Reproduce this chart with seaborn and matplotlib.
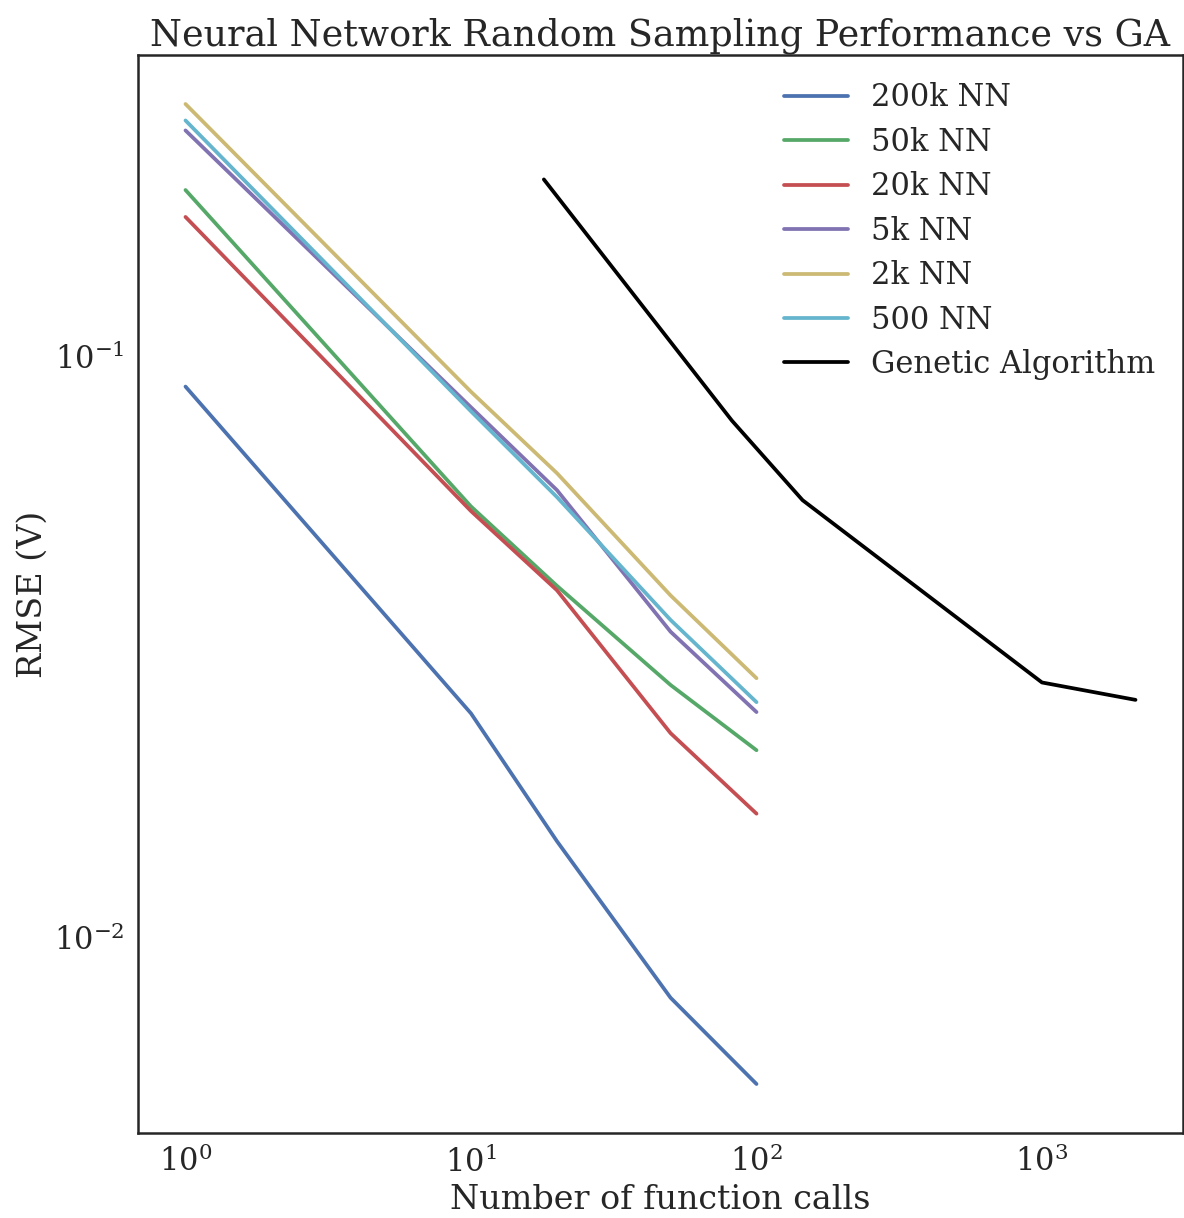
import numpy as np
import pandas as pd
import matplotlib
matplotlib.use("Agg")
import matplotlib.pyplot as plt
import seaborn as sns

# ---- data ----
nn_calls = [1, 10, 20, 50, 100]
rmse_200k = [0.0888, 0.0243, 0.01464, 0.00787, 0.00559]
rmse_50k = [0.1936, 0.0552, 0.0403, 0.0272, 0.0210]
rmse_20k = [0.1740, 0.0542, 0.0396, 0.02247, 0.01633]
rmse_5k = [0.2452, 0.0818, 0.0589, 0.0336, 0.02443]
rmse_2k = [0.2723, 0.0870, 0.0630, 0.0388, 0.02794]
rmse_500 = [0.2551, 0.0805, 0.0573, 0.0352, 0.02541]

ga_calls = [18, 82, 145, 1000, 2126]
rmse_ga = [0.2019, 0.0776, 0.0566, 0.02747, 0.02564]

series_names = ["200k NN", "50k NN", "20k NN", "5k NN", "2k NN", "500 NN", "Genetic Algorithm"]
series_colors = ["#4C72B0", "#55A868", "#C44E52", "#8172B2", "#CCB974", "#64B5CD", "#000000"]

rows = []
for name, vals in zip(series_names[:6], [rmse_200k, rmse_50k, rmse_20k, rmse_5k, rmse_2k, rmse_500]):
    for x, y in zip(nn_calls, vals):
        rows.append({"calls": x, "rmse": y, "series": name})
for x, y in zip(ga_calls, rmse_ga):
    rows.append({"calls": x, "rmse": y, "series": series_names[6]})
df = pd.DataFrame(rows)

sns.set_theme(style="white")
plt.rcParams["font.family"] = ["DejaVu Serif"]
plt.rcParams["mathtext.fontset"] = "dejavuserif"

fig = plt.figure(figsize=(11.84, 12.18), dpi=100)
ax = fig.add_axes([138 / 1184, 1 - 1133 / 1218, (1183 - 138) / 1184, (1133 - 55) / 1218])

sns.lineplot(data=df, x="calls", y="rmse", hue="series", hue_order=series_names,
             palette=dict(zip(series_names, series_colors)), linewidth=2.7, ax=ax,
             estimator=None, sort=False)
ax.set_xscale("log")
ax.set_yscale("log")
ax.minorticks_off()

ax.set_title("Neural Network Random Sampling Performance vs GA", fontsize=26.3, pad=7)
ax.set_xlabel("Number of function calls", fontsize=24, labelpad=4)
ax.set_ylabel("RMSE (V)", fontsize=24)
ax.tick_params(labelsize=22)

for s in ax.spines.values():
    s.set_color("#262626")
    s.set_linewidth(1.8)

leg = ax.legend(loc="upper right", frameon=False, fontsize=22, handlelength=2.12,
                handletextpad=0.75, borderaxespad=0.5, labelspacing=0.44)

fig.savefig("out.png", dpi=100)
